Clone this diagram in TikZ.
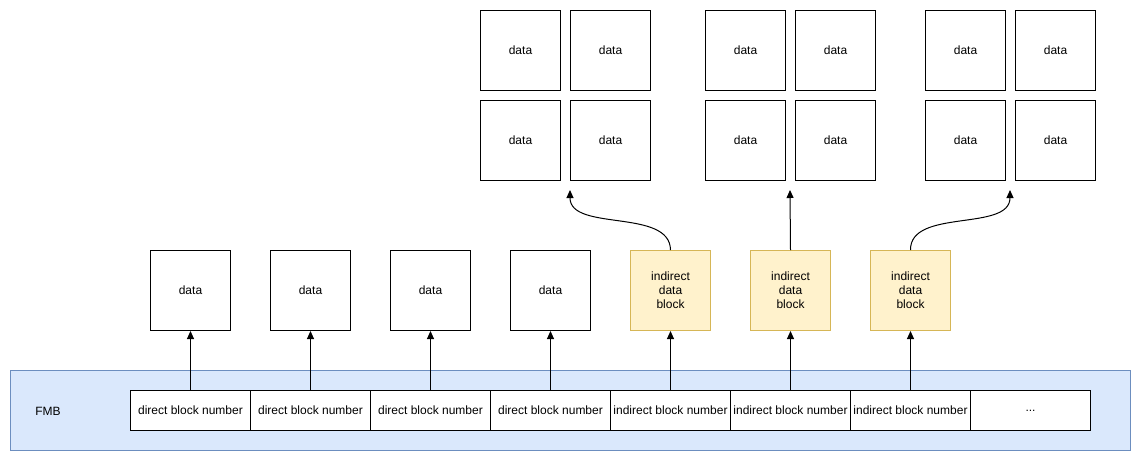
\documentclass[tikz,border=0pt]{standalone}
\usepackage{fontspec}
\setmainfont{Liberation Sans}
\usetikzlibrary{arrows.meta}
\definecolor{fmbfill}{HTML}{DAE8FC}
\definecolor{fmbline}{HTML}{6C8EBF}
\definecolor{indfill}{HTML}{FFF2CC}
\definecolor{indline}{HTML}{D6B656}
\begin{document}
\begin{tikzpicture}[x=1pt,y=-1pt,
  font=\fontsize{12}{14}\selectfont,
  box/.style={draw=black,line width=1pt,fill=white,minimum width=80pt,minimum height=80pt,inner sep=0pt,anchor=north west},
  indbox/.style={box,draw=indline,fill=indfill,align=center},
  cell/.style={draw=black,line width=1pt,fill=white,minimum width=120pt,minimum height=40pt,inner sep=0pt,anchor=north west},
  link/.style={line width=1pt,-{Triangle[length=8pt,width=7pt]}}]
\useasboundingbox (0,0) rectangle (1141,461);
% file metadata block
\node[draw=fmbline,fill=fmbfill,line width=1pt,minimum width=1120pt,minimum height=80pt,inner sep=0pt,anchor=north west] (fmb) at (10,370) {};
\node (fmblabel) at (48,411) {FMB};
% block number table
\foreach \i/\t in {0/direct,1/direct,2/direct,3/direct,4/indirect,5/indirect,6/indirect}
  \node[cell] (c\i) at (130+120*\i,390) {\t\ block number};
\node[cell] (c7) at (970,390) {...};
% first-level blocks
\foreach \i in {0,1,2,3}
  \node[box] (d\i) at (150+120*\i,250) {data};
\foreach \i in {4,5,6}
  \node[indbox] (d\i) at (150+120*\i,250) {indirect\\data\\block};
\foreach \i in {0,1,2,3,4,5,6}
  \draw[link] (c\i.north) -- (d\i.south);
% second-level data blocks
\foreach \g/\x in {1/480,2/705,3/925}{
  \node[box] (g\g a) at (\x,10) {data};
  \node[box] (g\g b) at (\x+90,10) {data};
  \node[box] (g\g c) at (\x,100) {data};
  \node[box] (g\g d) at (\x+90,100) {data};
}
\coordinate (t1) at (570,190);
\coordinate (t2) at (790,190);
\coordinate (t3) at (1010,190);
\draw[link] (d4.north) .. controls (670,208) and (570,232) .. (t1);
\draw[link] (d5.north) -- (t2);
\draw[link] (d6.north) .. controls (910,208) and (1010,232) .. (t3);
\end{tikzpicture}
\end{document}
